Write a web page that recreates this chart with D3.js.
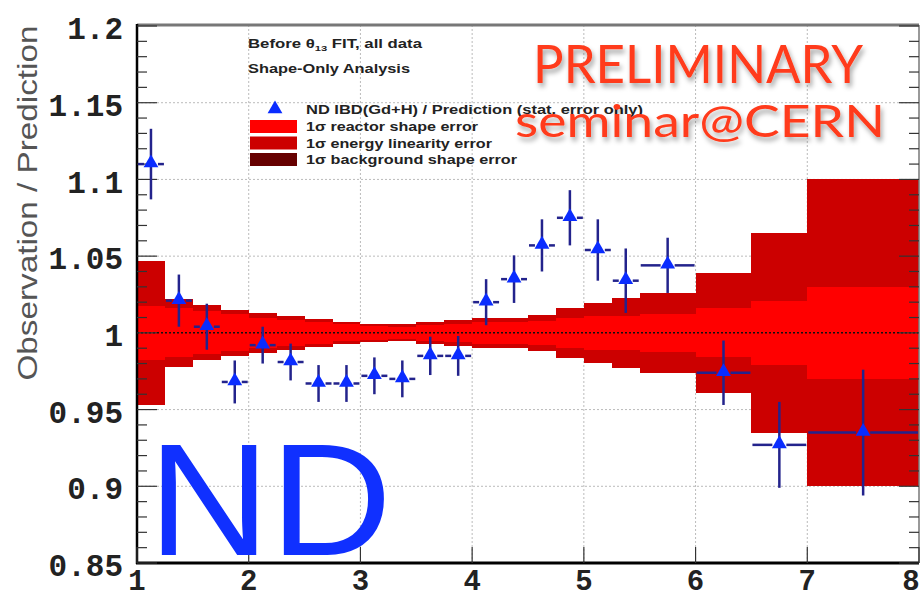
<!DOCTYPE html>
<html>
<head>
<meta charset="utf-8">
<script src="https://cdn.jsdelivr.net/npm/d3@7"></script>
<style>
  body { margin: 0; background: #fff; }
  svg { display: block; }
</style>
</head>
<body>
<svg id="chart" width="921" height="595"></svg>
<script>
// energy bins (MeV) and values
const binEdges = [1, 1.25, 1.5, 1.75, 2, 2.25, 2.5, 2.75, 3, 3.25, 3.5, 3.75, 4,
                  4.25, 4.5, 4.75, 5, 5.25, 5.5, 6, 6.5, 7, 8];
const ratio = [1.110, 1.021, 1.004, 0.968, 0.992, 0.981, 0.967, 0.967, 0.972, 0.970, 0.985,
               0.985, 1.020, 1.035, 1.057, 1.075, 1.054, 1.034, 1.044, 0.974, 0.927, 0.935];
const statErr = [0.023, 0.017, 0.015, 0.014, 0.012, 0.012, 0.012, 0.012, 0.012, 0.012, 0.0125,
                 0.013, 0.015, 0.0155, 0.017, 0.018, 0.020, 0.021, 0.018, 0.021, 0.028, 0.041];
const reactorErr = [0.0175, 0.016, 0.014, 0.012, 0.010, 0.0085, 0.007, 0.0055, 0.0045, 0.004, 0.005,
                    0.006, 0.007, 0.007, 0.008, 0.010, 0.011, 0.011, 0.0125, 0.016, 0.021, 0.030];
const totalErr = [0.047, 0.022, 0.018, 0.015, 0.013, 0.011, 0.009, 0.007, 0.006, 0.0055, 0.007,
                  0.0085, 0.0098, 0.0098, 0.0115, 0.0165, 0.0195, 0.023, 0.026, 0.039, 0.065, 0.100];

const yTicks = [0.85, 0.9, 0.95, 1, 1.05, 1.1, 1.15, 1.2];
const yTickLabels = ["0.85", "0.9", "0.95", "1", "1.05", "1.1", "1.15", "1.2"];
const xTicks = [1, 2, 3, 4, 5, 6, 7, 8];
const legendLabels = ["1\u03c3 reactor shape error", "1\u03c3 energy linearity error", "1\u03c3 background shape error"];
const legendColors = ["#ff0000", "#cc0000", "#660000"];

const svg = d3.select("#chart");
const x = d3.scaleLinear().domain([1, 8]).range([137, 919]);
const y = d3.scaleLinear().domain([0.85, 1.2]).range([563, 26]);

const defs = svg.append("defs");
const shadow = defs.append("filter").attr("id", "shadow")
    .attr("x", "-10%").attr("y", "-20%").attr("width", "120%").attr("height", "150%");
shadow.append("feDropShadow")
    .attr("dx", 2).attr("dy", 4).attr("stdDeviation", 2.5)
    .attr("flood-color", "#000").attr("flood-opacity", 0.35);

const bins = ratio.map((r, i) => ({
    lo: binEdges[i], hi: binEdges[i + 1], r: r, e: statErr[i],
    reac: reactorErr[i], tot: totalErr[i]
}));

// grid
const grid = svg.append("g").attr("stroke", "#bbb").attr("stroke-width", 1)
    .attr("stroke-dasharray", "2,2");
grid.selectAll(".gx").data(xTicks.slice(1, -1)).enter().append("line")
    .attr("x1", d => x(d)).attr("x2", d => x(d))
    .attr("y1", y(0.85)).attr("y2", y(1.2));
grid.selectAll(".gy").data(yTicks.filter(d => d > 0.86 && d < 1.19 && d !== 1)).enter().append("line")
    .attr("x1", x(1)).attr("x2", x(8))
    .attr("y1", d => y(d)).attr("y2", d => y(d));

// systematic bands
const bands = svg.append("g").attr("shape-rendering", "crispEdges");
bands.selectAll(".tot").data(bins).enter().append("rect")
    .attr("x", d => x(d.lo)).attr("width", d => x(d.hi) - x(d.lo))
    .attr("y", d => y(1 + d.tot)).attr("height", d => y(1 - d.tot) - y(1 + d.tot))
    .attr("fill", "#cc0000");
bands.selectAll(".reac").data(bins).enter().append("rect")
    .attr("x", d => x(d.lo)).attr("width", d => x(d.hi) - x(d.lo))
    .attr("y", d => y(1 + d.reac)).attr("height", d => y(1 - d.reac) - y(1 + d.reac))
    .attr("fill", "#ff0000");

// unity line
svg.append("line")
    .attr("x1", x(1)).attr("x2", x(8)).attr("y1", y(1)).attr("y2", y(1))
    .attr("stroke", "#111").attr("stroke-width", 1.5).attr("stroke-dasharray", "2,2");

// axes frame
svg.append("line").attr("x1", x(1)).attr("x2", x(8)).attr("y1", 25).attr("y2", 25)
    .attr("stroke", "#777").attr("stroke-width", 3);
svg.append("line").attr("x1", x(8)).attr("x2", x(8)).attr("y1", 25).attr("y2", y(0.85))
    .attr("stroke", "#777").attr("stroke-width", 1.5);
svg.append("line").attr("x1", x(1)).attr("x2", x(1)).attr("y1", 24).attr("y2", y(0.85) + 1)
    .attr("stroke", "#000").attr("stroke-width", 2.5);
svg.append("line").attr("x1", x(1) - 1).attr("x2", x(8)).attr("y1", y(0.85)).attr("y2", y(0.85))
    .attr("stroke", "#000").attr("stroke-width", 3);

// y ticks (major + minor, inside on both sides)
const yMinor = d3.range(0.86, 1.2, 0.01).filter(v => Math.abs(v * 20 - Math.round(v * 20)) > 0.01);
const ticks = svg.append("g").attr("stroke", "#333").attr("stroke-width", 1.2);
ticks.selectAll(".ymaj").data(yTicks).enter().append("line")
    .attr("x1", x(1)).attr("x2", x(1) + 20).attr("y1", d => y(d)).attr("y2", d => y(d));
ticks.selectAll(".ymin").data(yMinor).enter().append("line")
    .attr("x1", x(1)).attr("x2", x(1) + 10).attr("y1", d => y(d)).attr("y2", d => y(d));
ticks.selectAll(".ymajr").data(yTicks).enter().append("line")
    .attr("x1", x(8)).attr("x2", x(8) - 20).attr("y1", d => y(d)).attr("y2", d => y(d));
ticks.selectAll(".yminr").data(yMinor).enter().append("line")
    .attr("x1", x(8)).attr("x2", x(8) - 10).attr("y1", d => y(d)).attr("y2", d => y(d));
ticks.selectAll(".xmaj").data(xTicks).enter().append("line")
    .attr("x1", d => x(d)).attr("x2", d => x(d)).attr("y1", y(0.85)).attr("y2", y(0.85) - 16);

// tick labels
svg.append("g").selectAll("text").data(yTicks).enter().append("text")
    .attr("x", 123).attr("y", d => y(d) + 2).attr("dy", "0.36em")
    .attr("text-anchor", "end")
    .attr("font-family", "Liberation Mono, DejaVu Sans Mono, monospace")
    .attr("font-weight", "bold").attr("font-size", 31).attr("fill", "#222")
    .text((d, i) => yTickLabels[i]);
svg.append("g").selectAll("text").data(xTicks).enter().append("text")
    .attr("x", d => x(d) - (d === 8 ? 8 : 0)).attr("y", 590)
    .attr("text-anchor", "middle")
    .attr("font-family", "Liberation Mono, DejaVu Sans Mono, monospace")
    .attr("font-weight", "bold").attr("font-size", 29).attr("fill", "#222")
    .text(d => d);

// y title
svg.append("text")
    .attr("transform", "translate(37,203) rotate(-90)")
    .attr("text-anchor", "middle")
    .attr("font-family", "Liberation Sans, Arial, sans-serif")
    .attr("font-size", 28).attr("fill", "#555")
    .attr("textLength", 355).attr("lengthAdjust", "spacingAndGlyphs")
    .text("Observation / Prediction");

// data points
const tri = d3.symbol().type(d3.symbolTriangle).size(95);
const pts = svg.append("g");
const errColor = "#23238c";
pts.selectAll(".ev").data(bins).enter().append("line")
    .attr("x1", d => x((d.lo + d.hi) / 2)).attr("x2", d => x((d.lo + d.hi) / 2))
    .attr("y1", d => y(d.r + d.e)).attr("y2", d => y(d.r - d.e))
    .attr("stroke", errColor).attr("stroke-width", 2.5);
pts.selectAll(".el").data(bins).enter().append("line")
    .attr("x1", d => x(d.lo) + 1).attr("x2", d => x((d.lo + d.hi) / 2) - 7)
    .attr("y1", d => y(d.r)).attr("y2", d => y(d.r))
    .attr("stroke", errColor).attr("stroke-width", 2.5);
pts.selectAll(".er").data(bins).enter().append("line")
    .attr("x1", d => x((d.lo + d.hi) / 2) + 7).attr("x2", d => x(d.hi) - 1)
    .attr("y1", d => y(d.r)).attr("y2", d => y(d.r))
    .attr("stroke", errColor).attr("stroke-width", 2.5);
pts.selectAll(".m").data(bins).enter().append("path")
    .attr("d", tri)
    .attr("transform", d => `translate(${x((d.lo + d.hi) / 2)},${y(d.r) - 1})`)
    .attr("fill", "#0a2cff");

// header texts
const hdr = svg.append("g")
    .attr("font-family", "Liberation Sans, Arial, sans-serif")
    .attr("font-weight", "bold").attr("font-size", 12).attr("fill", "#222");
const t1 = hdr.append("text").attr("x", 248).attr("y", 48)
    .attr("textLength", 174).attr("lengthAdjust", "spacingAndGlyphs");
t1.append("tspan").text("Before \u03b8");
t1.append("tspan").attr("font-size", 8).attr("dy", 3).text("13");
t1.append("tspan").attr("dy", -3).text(" FIT, all data");
hdr.append("text").attr("x", 248).attr("y", 73)
    .attr("textLength", 162).attr("lengthAdjust", "spacingAndGlyphs")
    .text("Shape-Only Analysis");

// legend
const leg = svg.append("g")
    .attr("font-family", "Liberation Sans, Arial, sans-serif")
    .attr("font-weight", "bold").attr("font-size", 12.5).attr("fill", "#222");
leg.append("path").attr("d", tri).attr("transform", "translate(275,109)").attr("fill", "#0a2cff");
leg.append("text").attr("x", 306).attr("y", 114)
    .attr("textLength", 337).attr("lengthAdjust", "spacingAndGlyphs")
    .text("ND IBD(Gd+H) / Prediction (stat. error only)");
const legLen = [172, 186, 211];
legendLabels.forEach((lab, i) => {
    leg.append("rect").attr("x", 250).attr("y", 120 + i * 16.5).attr("width", 47).attr("height", 13)
        .attr("fill", legendColors[i]);
    leg.append("text").attr("x", 306).attr("y", 131 + i * 16.5)
        .attr("textLength", legLen[i]).attr("lengthAdjust", "spacingAndGlyphs")
        .text(lab);
});

// overlays
svg.append("text").attr("x", 533).attr("y", 83)
    .attr("font-family", "Lato, Open Sans, sans-serif").attr("font-size", 53)
    .attr("fill", "#ff3a1a").attr("filter", "url(#shadow)")
    .attr("textLength", 330).attr("lengthAdjust", "spacingAndGlyphs")
    .text("PRELIMINARY");
svg.append("text").attr("x", 515).attr("y", 137)
    .attr("font-family", "Lato, Open Sans, sans-serif").attr("font-size", 44)
    .attr("fill", "#ff3a1a").attr("filter", "url(#shadow)")
    .attr("textLength", 370).attr("lengthAdjust", "spacingAndGlyphs")
    .text("seminar@CERN");
svg.append("text").attr("x", 148).attr("y", 555)
    .attr("font-family", "Liberation Sans, Arial, sans-serif").attr("font-size", 160)
    .attr("fill", "#1030ff")
    .attr("textLength", 244).attr("lengthAdjust", "spacingAndGlyphs")
    .text("ND");
</script>
</body>
</html>
